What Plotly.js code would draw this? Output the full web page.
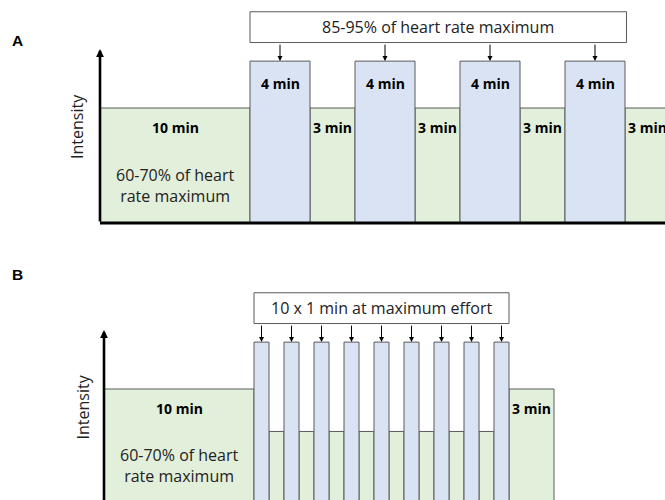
<!DOCTYPE html>
<html><head><meta charset="utf-8">
<script src="https://cdn.plot.ly/plotly-3.0.1.min.js"></script>
<style>html,body{margin:0;padding:0;background:#fff}#chart{width:665px;height:500px}</style>
</head><body><div id="chart"></div>
<script>
// ---- Panel A: 4 x 4 min intervals ----
const aPhase = ['warm','high','rec','high','rec','high','rec','high','rec'];
const aMinutes = [10, 4, 3, 4, 3, 4, 3, 4, 3];
const aIntensity = [65, 91.5, 65, 91.5, 65, 91.5, 65, 91.5, 65];
const aLabels = ['10 min','4 min','3 min','4 min','3 min','4 min','3 min','4 min','3 min'];
// ---- Panel B: 1 min maximal efforts ----
const bPhase = ['warm','high','rec','high','rec','high','rec','high','rec','high','rec','high','rec','high','rec','high','rec','high','cool'];
const bMinutes = [10, 1, 1, 1, 1, 1, 1, 1, 1, 1, 1, 1, 1, 1, 1, 1, 1, 1, 3];
const bIntensity = [65, 91.5, 41, 91.5, 41, 91.5, 41, 91.5, 41, 91.5, 41, 91.5, 41, 91.5, 41, 91.5, 41, 91.5, 65];
const bLabels = ['10 min','','','','','','','','','','','','','','','','','','3 min'];
// ---- texts ----
const aBoxText = '85-95% of heart rate maximum';
const bBoxText = '10 x 1 min at maximum effort';
const warmText = '60-70% of heart<br>rate maximum';
const yTitle = 'Intensity';
const panelLetters = ['A', 'B'];
const axisTip = 98.3;
const boxTop = 119.4, boxBottom = 102;

const GREEN = '#e2efda', BLUE = '#dae3f3', EDGE = '#5a5a5a';
const FONT = 'Open Sans, Noto Sans, sans-serif';

function segs(phase, mins, inten) {
  let t = 0; const out = [];
  for (let i = 0; i < mins.length; i++) {
    out.push({phase: phase[i], start: t, dur: mins[i], mid: t + mins[i] / 2, end: t + mins[i], y: inten[i]});
    t += mins[i];
  }
  return out;
}
const A = segs(aPhase, aMinutes, aIntensity);
const B = segs(bPhase, bMinutes, bIntensity);

function barTraces(S, xa, ya) {
  const g = S.filter(s => s.phase !== 'high'), h = S.filter(s => s.phase === 'high');
  const mk = (arr, col) => ({
    type: 'bar', x: arr.map(s => s.mid), y: arr.map(s => s.y), width: arr.map(s => s.dur), base: 0,
    xaxis: xa, yaxis: ya, marker: {color: col, line: {color: EDGE, width: 1}}, hoverinfo: 'skip', showlegend: false
  });
  return [mk(g, GREEN), mk(h, BLUE)];
}

const data = [...barTraces(A, 'x', 'y'), ...barTraces(B, 'x2', 'y2')];

const ann = [], shapes = [];
function panel(S, labels, boxText, xr, yr, warmY, boxPad) {
  const highs = S.filter(s => s.phase === 'high');
  S.forEach((s, i) => {
    if (!labels[i]) return;
    ann.push({xref: xr, yref: yr, x: s.mid, y: s.phase === 'high' ? 78.6 : 54, text: '<b>' + labels[i] + '</b>',
      showarrow: false, font: {family: FONT, size: 14, color: '#000'}});
  });
  ann.push({xref: xr, yref: yr, x: S[0].mid, y: warmY, text: warmText, showarrow: false,
    font: {family: FONT, size: 16, color: '#222'}});
  const x0 = highs[0].start, x1 = highs[highs.length - 1].end + boxPad;
  shapes.push({type: 'rect', xref: xr, yref: yr, x0: x0, x1: x1, y0: boxBottom, y1: boxTop,
    fillcolor: '#fff', line: {color: EDGE, width: 1}, layer: 'above'});
  ann.push({xref: xr, yref: yr, x: (x0 + x1) / 2, y: (boxTop + boxBottom) / 2, text: boxText, showarrow: false,
    font: {family: FONT, size: 16, color: '#222'}});
  highs.forEach(s => ann.push({xref: xr, yref: yr, x: s.mid, y: s.y, ax: 0, ay: -18, text: '', showarrow: true,
    arrowhead: 2, arrowsize: 1, arrowwidth: 1, arrowcolor: '#000', standoff: 0}));
  ann.push({xref: xr, yref: yr, x: 0, y: axisTip, axref: xr, ayref: yr, ax: 0, ay: 0, text: '', showarrow: true,
    arrowhead: 2, arrowsize: 0.6, arrowwidth: 2.6, arrowcolor: '#000', standoff: 0});
}
panel(A, aLabels, aBoxText, 'x', 'y', 21, 0.1);
panel(B, bLabels, bBoxText, 'x2', 'y2', 21.5, 0);
shapes.push({type: 'line', xref: 'x', yref: 'y', x0: -0.1, x1: A[A.length - 1].end, y0: 0, y1: 0,
  line: {color: '#000', width: 3}, layer: 'above'});

const pa = (x, y, text, size, angle, fam) => ({xref: 'paper', yref: 'paper', x: x / 665, y: (500 - y) / 500, text: text,
  textangle: angle || 0, showarrow: false, xanchor: 'center', yanchor: 'middle',
  font: {family: fam || FONT, size: size, color: size === 16 ? '#222' : '#000'}});
ann.push(pa(77, 127, yTitle, 16, -90));
ann.push(pa(82, 407.5, yTitle, 16, -90));
ann.push(pa(17.5, 40.7, '<b>' + panelLetters[0] + '</b>', 15.5, 0, 'Liberation Sans, Arial, sans-serif'));
ann.push(pa(17.5, 274.5, '<b>' + panelLetters[1] + '</b>', 15.5, 0, 'Liberation Sans, Arial, sans-serif'));

const hid = {showgrid: false, zeroline: false, showticklabels: false, showline: false, ticks: '', fixedrange: true};
const k = 115 / 65;
const layout = {
  width: 665, height: 500, margin: {l: 0, r: 0, t: 0, b: 0}, paper_bgcolor: '#fff', plot_bgcolor: 'rgba(0,0,0,0)',
  barmode: 'overlay', showlegend: false,
  xaxis: Object.assign({}, hid, {domain: [100 / 665, 1], range: [0, 565 / 15], anchor: 'y'}),
  yaxis: Object.assign({}, hid, {domain: [(500 - (223 + 5 * k)) / 500, 1], range: [-5, 223 / k], anchor: 'x'}),
  xaxis2: Object.assign({}, hid, {domain: [104 / 665, 1], range: [0, 561 / 15], anchor: 'y2'}),
  yaxis2: Object.assign({}, hid, {domain: [0, 0.5], range: [4 / k, 254 / k], anchor: 'x2'}),
  shapes: shapes, annotations: ann
};
Plotly.newPlot('chart', data, layout, {displayModeBar: false, staticPlot: true});
</script></body></html>
